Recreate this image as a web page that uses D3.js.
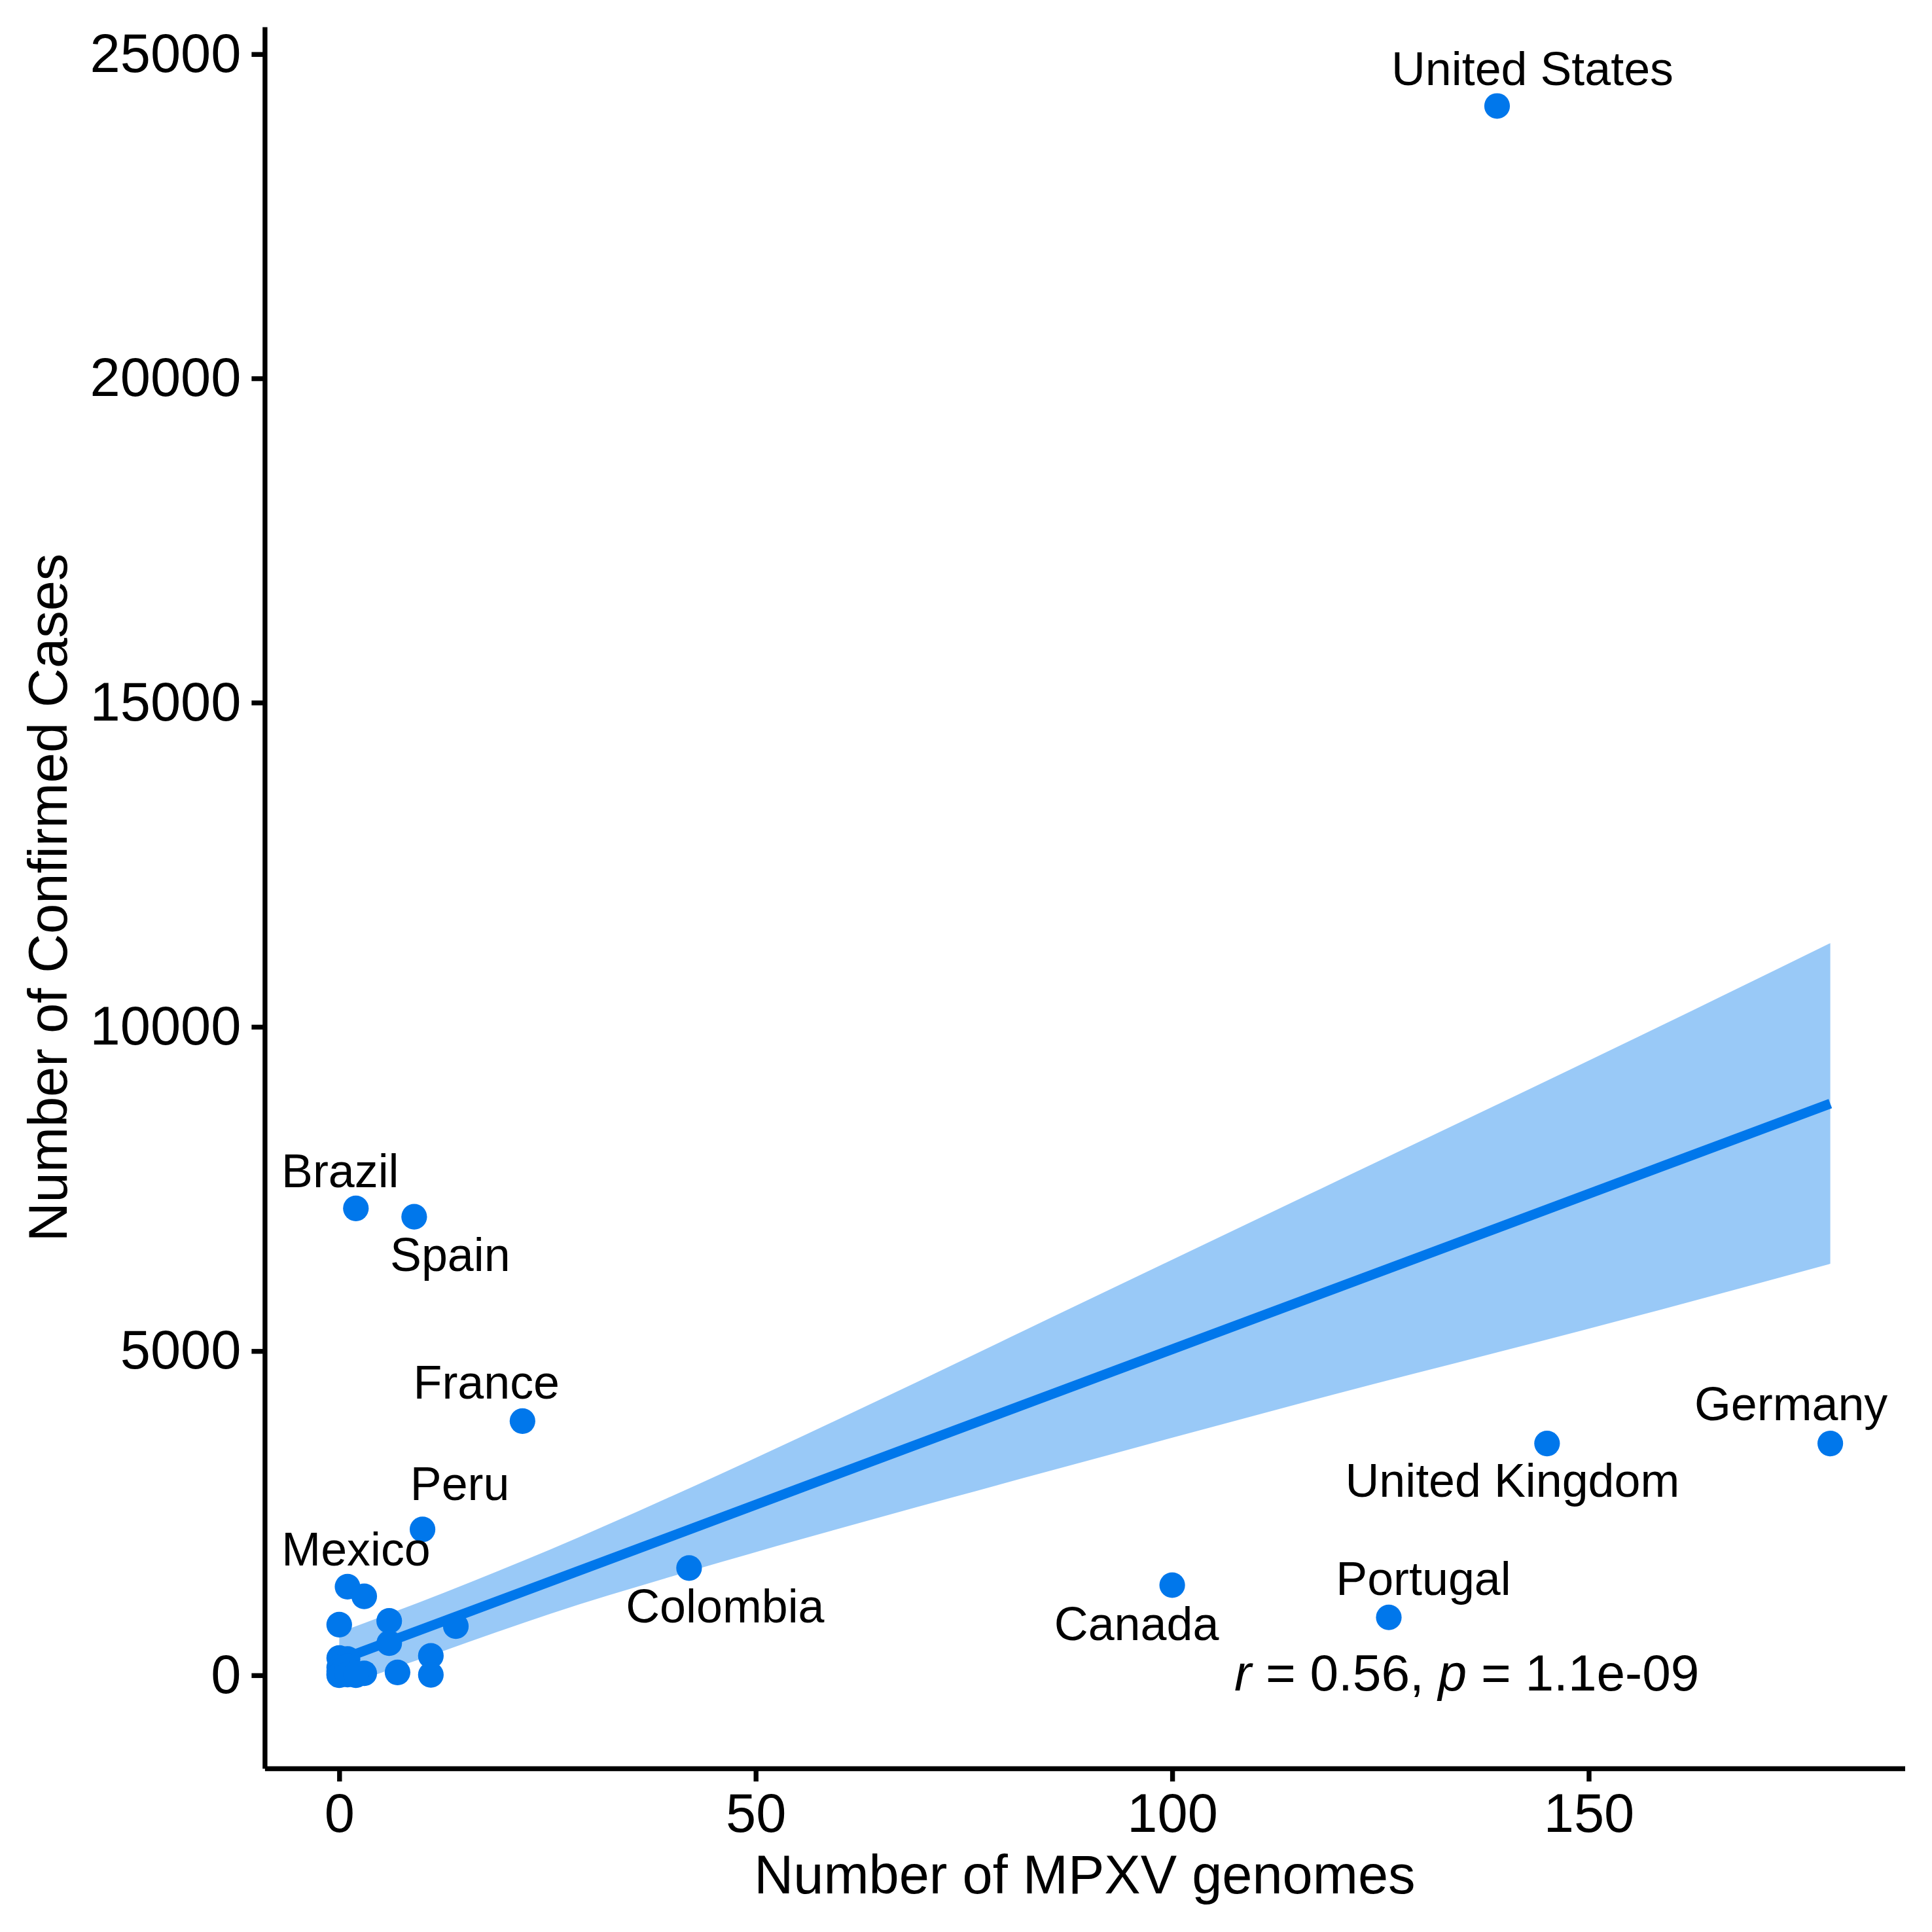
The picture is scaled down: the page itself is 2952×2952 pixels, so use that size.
<!DOCTYPE html>
<html>
<head>
<meta charset="utf-8">
<script src="https://cdn.jsdelivr.net/npm/d3@7"></script>
<style>
	html, body { margin: 0; padding: 0; background: #fff; }
	text { font-family: "Liberation Sans", Arial, sans-serif; fill: #000; }
</style>
</head>
<body>
<svg id="chart" width="2952" height="2952"></svg>
<script>

// Data

	var labelledCountries = ['United States', 'Brazil', 'Spain', 'France', 'Peru', 'Mexico',
		'Colombia', 'Canada', 'Portugal', 'United Kingdom', 'Germany'];
	var labelledGenomes = [139, 2, 9, 22, 10, 1, 42, 100, 126, 145, 179];
	var labelledCases = [24200, 7200, 7070, 3920, 2250, 1366, 1654, 1390, 893, 3574, 3574];

	// the unlabelled countries down near the origin
	var otherGenomes = [3, 0, 6, 6, 14, 11, 11, 7, 3, 0, 1, 0, 0, 0, 0, 1, 1, 2, 2];
	var otherCases = [1218, 780, 838, 495, 757, 300, 7, 44, 30, 266, 250, 120, 60, 20, 0, 140, 10, 0, 25];

	// regression line and its confidence band
	var fitGenomes = [0, 179];
	var fitCases = [233, 8815];
	var bandGenomes = [0, 12.7, 25.3, 45.7, 69.27, 85, 116.4, 156, 179];
	var bandUpper = [660, 1280, 1938, 3099, 4517, 5487, 7415, 9850, 11291];
	var bandLower = [-188, 384, 946, 1740, 2590, 3140, 4229, 5547, 6345];

	var xTicks = [0, 50, 100, 150];
	var yTicks = [0, 5000, 10000, 15000, 20000, 25000];

// Layout

	var blue = '#0077EB';
	var plotLeft = 404.4, plotRight = 2910.5, plotTop = 41, plotBottom = 2702;

	// label offset from its point: [dx, baseline dy], same order as labelledCountries
	var labelOffsets = [[54, -32], [-24, -32], [55, 83], [-55, -34], [57, -45], [13, -32],
		[55, 83], [-54.5, 83.7], [53, -34], [-53, 81], [-60, -36]];

	var x = d3.scaleLinear().domain([-8.95, 187.95]).range([plotLeft, plotRight]);
	var y = d3.scaleLinear().domain([-1436, 25421]).range([plotBottom, plotTop]);

	var svg = d3.select('#chart');

// Band and line

	var band = d3.area()
		.curve(d3.curveMonotoneX)
		.x(function(d, i) { return x(bandGenomes[i]); })
		.y0(function(d, i) { return y(bandLower[i]); })
		.y1(function(d, i) { return y(bandUpper[i]); });

	svg.append('path')
		.attr('d', band(bandGenomes))
		.attr('fill', blue)
		.attr('fill-opacity', 0.4);

	var fitLine = d3.line()
		.x(function(d, i) { return x(fitGenomes[i]); })
		.y(function(d, i) { return y(fitCases[i]); });

	svg.append('path')
		.attr('d', fitLine(fitGenomes))
		.attr('fill', 'none')
		.attr('stroke', blue)
		.attr('stroke-width', 15);

// Points

	var points = [];
	labelledGenomes.forEach(function(g, i) { points.push([g, labelledCases[i]]); });
	otherGenomes.forEach(function(g, i) { points.push([g, otherCases[i]]); });

	svg.append('g').selectAll('circle')
		.data(points)
		.join('circle')
		.attr('cx', function(d) { return x(d[0]); })
		.attr('cy', function(d) { return y(d[1]); })
		.attr('r', 19.6)
		.attr('fill', blue);

// Labels

	svg.append('g').selectAll('text')
		.data(labelledCountries)
		.join('text')
		.attr('x', function(d, i) { return x(labelledGenomes[i]) + labelOffsets[i][0]; })
		.attr('y', function(d, i) { return y(labelledCases[i]) + labelOffsets[i][1]; })
		.attr('text-anchor', 'middle')
		.style('font-size', '71.8px')
		.text(function(d) { return d; });

	var stat = svg.append('text')
		.attr('x', 1886)
		.attr('y', 2583)
		.style('font-size', '78.4px');
	stat.append('tspan').style('font-style', 'italic').text('r');
	stat.append('tspan').text(' = 0.56, ');
	stat.append('tspan').style('font-style', 'italic').text('p');
	stat.append('tspan').text(' = 1.1e-09');

// Axes

	var xAxis = svg.append('g')
		.attr('transform', 'translate(0,' + plotBottom + ')')
		.call(d3.axisBottom(x).tickValues(xTicks).tickSize(20).tickSizeOuter(0).tickPadding(18).tickFormat(d3.format('d')));

	var yAxis = svg.append('g')
		.attr('transform', 'translate(' + plotLeft + ',0)')
		.call(d3.axisLeft(y).tickValues(yTicks).tickSize(20).tickSizeOuter(0).tickPadding(16).tickFormat(d3.format('d')));

	[xAxis, yAxis].forEach(function(axis) {
		axis.attr('font-family', null).attr('font-size', null);
		axis.select('.domain').attr('stroke', '#000').attr('stroke-width', 7.4);
		axis.selectAll('.tick line').attr('stroke', '#000').attr('stroke-width', 7.4);
		axis.selectAll('.tick text').style('font-size', '83px').attr('fill', '#000');
	});

	svg.append('text')
		.attr('x', (plotLeft + plotRight) / 2)
		.attr('y', 2893)
		.attr('text-anchor', 'middle')
		.style('font-size', '83px')
		.text('Number of MPXV genomes');

	svg.append('text')
		.attr('transform', 'translate(102,' + (plotTop + plotBottom) / 2 + ') rotate(-90)')
		.attr('text-anchor', 'middle')
		.style('font-size', '83px')
		.text('Number of Confirmed Cases');

</script>
</body>
</html>
